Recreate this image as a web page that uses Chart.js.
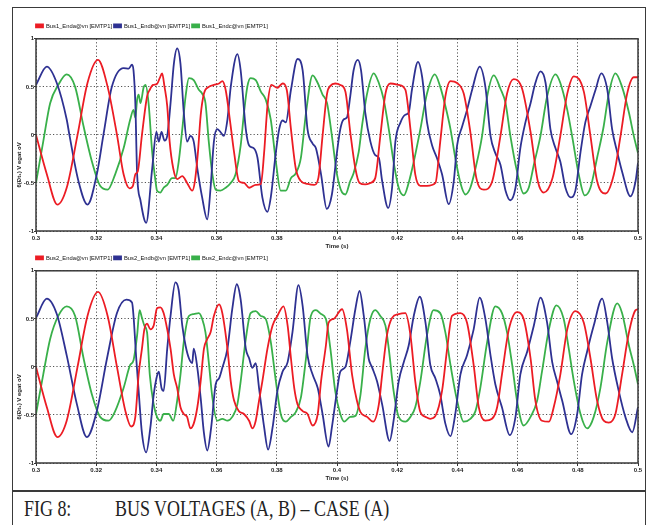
<!DOCTYPE html>
<html>
<head>
<meta charset="utf-8">
<script src="https://cdn.jsdelivr.net/npm/chart.js@4.4.1/dist/chart.umd.min.js"></script>
<style>
html,body{margin:0;padding:0;background:#fff;}
body{width:648px;height:525px;position:relative;overflow:hidden;font-family:Arial,"Liberation Sans",sans-serif;}
#frame{position:absolute;left:12px;top:7px;width:634px;height:485px;box-sizing:border-box;border:1.5px solid #3a3a3a;}
#cap{position:absolute;left:12px;top:490px;width:634px;height:45px;box-sizing:border-box;border:1.5px solid #3a3a3a;}
.captxt{position:absolute;top:497px;font-family:"Liberation Serif","Times New Roman",serif;font-size:23px;line-height:23px;color:#222;white-space:nowrap;transform-origin:0 0;transform:scaleX(0.78);}
#capA{left:24px;}
#capB{left:115px;}
canvas{position:absolute;}
#c1{left:14px;top:18px;}
#c2{left:14px;top:250px;}
</style>
</head>
<body>
<div id="frame"></div>
<div id="cap"></div>
<div id="capA" class="captxt">FIG 8:</div>
<div id="capB" class="captxt">BUS VOLTAGES (A, B) – CASE (A)</div>
<canvas id="c1" width="630" height="232"></canvas>
<canvas id="c2" width="630" height="232"></canvas>
<script>
// ---------- axis ticks ----------
const xTickValues = [0.3,0.32,0.34,0.36,0.38,0.4,0.42,0.44,0.46,0.48,0.5];
const xTickLabels = ["0.3","0.32","0.34","0.36","0.38","0.4","0.42","0.44","0.46","0.48","0.5"];
const yTickValues = [-1,-0.5,0,0.5,1];
const yTickLabels = ["-1","-0.5","0","0.5","1"];
const xTitle = "Time (s)";
const yTitle = "6(Đt₁) V egat oV";

// ---------- series names ----------
const namesBus1 = ["Bus1_Enda@vn [EMTP1]","Bus1_Endb@vn [EMTP1]","Bus1_Endc@vn [EMTP1]"];
const namesBus2 = ["Bus2_Enda@vn [EMTP1]","Bus2_Endb@vn [EMTP1]","Bus2_Endc@vn [EMTP1]"];

// ---------- Bus 1, phase a (red) ----------
const timeBus1A = [.3000,.3036,.3071,.3102,.3138,.3171,.3206,.3238,.3269,.3291,
.3311,.3322,.3330,.3338,.3352,.3369,.3378,.3389,.3402,.3411,
.3419,.3427,.3436,.3444,.3456,.3469,.3486,.3502,.3519,.3528,
.3538,.3547,.3558,.3574,.3591,.3608,.3619,.3630,.3644,.3658,
.3674,.3691,.3708,.3730,.3747,.3758,.3769,.3782,.3802,.3819,
.3833,.3847,.3863,.3880,.3902,.3924,.3938,.3952,.3967,.3978,
.3994,.4011,.4028,.4044,.4061,.4075,.4094,.4111,.4127,.4144,
.4161,.4177,.4205,.4227,.4244,.4260,.4277,.4299,.4327,.4343,
.4360,.4377,.4399,.4421,.4443,.4463,.4488,.4516,.4543,.4565,
.4587,.4615,.4643,.4667,.4687,.4715,.4742,.4765,.4787,.4820,
.4842,.4864,.4892,.4920,.4942,.4964,.4986,.5000];
const voltBus1A = [0,-0.41,-0.725,-0.55,0,0.54,0.78,0.50,0,-0.41,
-0.556,-0.53,-0.41,-0.38,0,0.40,0.47,0.52,0.53,0.59,
0.64,0.50,0.30,-0.07,-0.35,-0.46,-0.43,-0.50,-0.58,-0.48,
-0.18,0.20,0.43,0.50,0.52,0.535,0.56,0.47,0.16,-0.18,
-0.48,-0.50,-0.55,-0.52,-0.51,-0.18,0.30,0.52,0.49,0.535,
0.47,0.06,-0.35,-0.48,-0.51,-0.52,-0.45,-0.01,0.43,0.51,
0.535,0.52,0.45,0.03,-0.35,-0.50,-0.515,-0.50,-0.45,-0.01,
0.43,0.535,0.52,0.47,0.06,-0.41,-0.53,-0.53,-0.50,-0.07,
0.40,0.56,0.54,0.43,0.03,-0.45,-0.57,-0.48,-0.01,0.43,
0.58,0.48,0.03,-0.48,-0.60,-0.46,-0.01,0.43,0.61,0.45,
-0.01,-0.48,-0.61,-0.41,-0.01,0.43,0.60,0.60];

// ---------- Bus 1, phase b (blue) ----------
const timeBus1B = [.3000,.3036,.3069,.3102,.3111,.3141,.3171,.3202,.3224,.3252,
.3291,.3308,.3319,.3324,.3330,.3336,.3347,.3366,.3386,.3400,
.3408,.3417,.3427,.3436,.3447,.3458,.3469,.3480,.3491,.3502,
.3513,.3524,.3536,.3552,.3569,.3580,.3591,.3602,.3613,.3624,
.3636,.3647,.3669,.3680,.3697,.3708,.3724,.3736,.3752,.3769,
.3780,.3797,.3808,.3819,.3830,.3847,.3869,.3886,.3902,.3919,
.3930,.3947,.3966,
.3983,.4000,.4011,.4022,.4033,.4044,.4055,.4069,.4080,.4094,
.4111,.4127,.4139,.4150,.4170,.4183,.4194,.4211,.4227,.4238,
.4249,.4269,.4283,.4299,.4316,.4332,.4349,.4371,.4388,.4399,
.4416,.4432,.4449,.4474,.4493,.4510,.4526,.4543,.4560,.4576,
.4593,.4609,.4626,.4643,.4659,.4676,.4693,.4709,.4726,.4742,
.4759,.4776,.4792,.4809,.4825,.4842,.4859,.4878,.4898,.4914,
.4931,.4947,.4975,.4992,.5000];
const voltBus1B = [0.52,0.71,0.54,0.16,0,-0.48,-0.725,-0.41,0,0.50,
0.695,0.69,0.73,0.67,0.33,-0.41,-0.68,-0.915,-0.35,0.03,
-0.07,0.03,-0.06,-0.01,0.33,0.74,0.90,0.74,0.23,-0.07,
-0.01,-0.07,-0.35,-0.65,-0.88,-0.55,-0.07,0.06,0.03,-0.01,
0.16,0.50,0.84,0.67,0.06,-0.11,-0.14,-0.24,-0.65,-0.80,
-0.65,-0.18,0.06,0.15,0.13,0.47,0.79,0.67,0.06,-0.09,
-0.14,-0.41,-0.77,
-0.62,-0.18,0.06,0.16,0.18,0.40,0.67,0.78,0.67,0.23,
-0.07,-0.21,-0.24,-0.48,-0.76,-0.55,-0.07,0.13,0.21,0.23,
0.47,0.76,0.60,0.13,-0.11,-0.24,-0.41,-0.72,-0.48,-0.11,
0.09,0.26,0.47,0.71,0.50,-0.01,-0.19,-0.31,-0.58,-0.68,
-0.55,-0.14,0.13,0.33,0.54,0.66,0.54,0.06,-0.14,-0.28,
-0.55,-0.65,-0.58,-0.18,0.13,0.30,0.47,0.64,0.47,0.06,
-0.18,-0.38,-0.64,-0.48,-0.29];

// ---------- Bus 1, phase c (green) ----------
const timeBus1C = [.3000,.3024,.3047,.3074,.3102,.3130,.3158,.3186,.3213,.3238,
.3263,.3291,.3313,.3324,.3330,.3336,.3341,.3347,.3358,.3364,
.3374,.3386,.3397,.3402,.3413,.3424,.3436,.3452,.3463,.3474,
.3486,.3497,.3508,.3524,.3541,.3552,.3563,.3574,.3586,.3597,
.3613,.3630,.3647,.3663,.3680,.3691,.3702,.3713,.3730,.3747,
.3763,.3780,.3797,.3813,.3830,.3847,.3863,.3880,.3897,.3919,
.3936,.3952,
.3967,.3983,.4000,.4017,.4028,.4044,.4055,.4072,.4083,.4100,
.4122,.4139,.4155,.4172,.4188,.4205,.4222,.4238,.4255,.4277,
.4299,.4325,.4343,.4360,.4377,.4393,.4410,.4427,.4443,.4460,
.4482,.4499,.4521,.4543,.4560,.4576,.4598,.4620,.4637,.4654,
.4676,.4698,.4726,.4742,.4765,.4781,.4803,.4823,.4842,.4864,
.4886,.4903,.4925,.4947,.4970,.4986,.5000];
const voltBus1C = [-0.50,-0.07,0.33,0.52,0.63,0.50,0.09,-0.28,-0.53,-0.57,
-0.41,-0.14,0.16,0.26,0.18,0.37,0.42,0.33,0.50,0.52,
0.33,-0.18,-0.48,-0.58,-0.60,-0.55,-0.52,-0.45,-0.45,-0.28,
0.06,0.40,0.59,0.57,0.47,0.43,0.33,-0.07,-0.41,-0.57,
-0.58,-0.55,-0.50,-0.41,-0.11,0.23,0.50,0.59,0.57,0.45,
0.37,0.16,-0.28,-0.58,-0.58,-0.45,-0.40,-0.24,0.23,0.62,
0.54,0.42,
0.33,-0.01,-0.41,-0.60,-0.62,-0.48,-0.40,-0.18,0.09,0.43,
0.64,0.54,0.37,0.06,-0.28,-0.55,-0.63,-0.50,-0.28,0.06,
0.43,0.63,0.50,0.30,0.06,-0.24,-0.50,-0.62,-0.55,-0.35,
-0.01,0.40,0.62,0.48,0.33,-0.01,-0.38,-0.61,-0.55,-0.31,
-0.01,0.40,0.63,0.54,0.26,-0.01,-0.41,-0.63,-0.55,-0.24,
0.09,0.43,0.64,0.50,0.23,-0.01,-0.19];

// ---------- Bus 2, phase a (red) ----------
const timeBus2A = [.3000,.3036,.3071,.3102,.3138,.3171,.3206,.3238,.3269,.3297,
.3316,.3330,.3341,.3352,.3360,.3369,.3380,.3391,.3402,.3413,
.3424,.3436,.3447,.3458,.3469,.3480,.3491,.3502,.3513,.3524,
.3536,.3547,.3558,.3569,.3580,.3591,.3608,.3619,.3636,.3647,
.3658,.3674,.3691,.3708,.3719,.3730,.3741,.3752,.3769,.3786,
.3802,.3822,.3836,.3847,.3858,.3869,.3886,.3902,.3919,.3936,
.3947,.3963,
.3972,.3989,.4017,.4033,.4050,.4066,.4078,.4100,.4120,.4139,
.4150,.4166,.4183,.4205,.4227,.4244,.4260,.4277,.4294,.4310,
.4327,.4349,.4366,.4382,.4410,.4432,.4454,.4471,.4493,.4515,
.4532,.4548,.4571,.4598,.4620,.4643,.4659,.4681,.4704,.4720,
.4742,.4765,.4792,.4820,.4842,.4864,.4886,.4903,.4925,.4947,
.4970,.4992,.5000];
const voltBus2A = [0,-0.42,-0.73,-0.56,0,0.53,0.78,0.53,0,-0.46,
-0.62,-0.52,-0.08,0.19,0.39,0.45,0.39,0.43,0.61,0.62,
0.56,0.39,0.19,-0.08,-0.22,-0.42,-0.49,-0.52,-0.64,-0.59,
-0.42,-0.15,0.19,0.29,0.36,0.53,0.65,0.56,0.19,-0.15,
-0.35,-0.46,-0.49,-0.56,-0.64,-0.56,-0.35,-0.15,0.19,0.43,
0.53,0.63,0.43,0.09,-0.22,-0.39,-0.46,-0.49,-0.61,-0.49,
-0.15,0.22,
0.46,0.50,0.60,0.39,-0.08,-0.35,-0.47,-0.52,-0.57,-0.39,
-0.08,0.33,0.51,0.55,0.56,0.33,-0.15,-0.47,-0.52,-0.54,
-0.51,-0.25,0.19,0.53,0.56,0.46,0.02,-0.42,-0.56,-0.54,
-0.42,-0.08,0.39,0.57,0.50,0.09,-0.35,-0.56,-0.57,-0.42,
-0.08,0.39,0.58,0.46,0.09,-0.35,-0.56,-0.58,-0.49,-0.08,
0.36,0.59,0.60];

// ---------- Bus 2, phase b (blue) ----------
const timeBus2B = [.3000,.3036,.3069,.3102,.3136,.3169,.3202,.3236,.3269,.3300,
.3319,.3324,.3333,.3341,.3352,.3366,.3380,.3391,.3400,.3408,
.3417,.3424,.3436,.3447,.3463,.3474,.3486,.3497,.3508,.3519,
.3524,.3536,.3547,.3558,.3569,.3582,.3597,.3608,.3619,.3636,
.3652,.3667,.3680,.3697,.3708,.3719,.3730,.3741,.3758,.3771,
.3786,.3802,.3819,.3836,.3852,.3872,.3886,.3902,.3919,.3936,
.3952,
.3972,.3983,.4000,.4011,.4028,.4044,.4061,.4075,.4089,.4105,
.4116,.4133,.4150,.4175,.4188,.4205,.4222,.4238,.4255,.4275,
.4294,.4310,.4327,.4343,.4360,.4377,.4393,.4410,.4432,.4454,
.4474,.4493,.4510,.4526,.4548,.4574,.4593,.4609,.4632,.4654,
.4676,.4698,.4715,.4731,.4748,.4778,.4798,.4814,.4831,.4853,
.4881,.4898,.4914,.4936,.4958,.4981,.5000];
const voltBus2B = [0.51,0.71,0.55,0.12,-0.39,-0.73,-0.46,0.09,0.56,0.70,
0.67,0.53,0.09,-0.25,-0.69,-0.89,-0.63,-0.29,-0.12,-0.05,
-0.22,-0.25,0.19,0.53,0.88,0.80,0.43,0.22,0.09,0.04,
0.19,-0.01,-0.32,-0.69,-0.87,-0.63,-0.18,-0.12,-0.01,0.19,
0.60,0.86,0.70,0.19,0.09,-0.01,0.04,-0.22,-0.63,-0.86,
-0.63,-0.25,-0.05,0.05,0.36,0.85,0.63,0.12,-0.08,-0.22,
-0.49,
-0.83,-0.63,-0.25,-0.05,0.00,0.26,0.60,0.79,0.53,0.09,
0.00,-0.15,-0.39,-0.77,-0.56,-0.15,0.05,0.22,0.53,0.73,
0.46,0.02,-0.12,-0.29,-0.59,-0.72,-0.49,-0.08,0.12,0.39,
0.72,0.50,0.12,-0.18,-0.42,-0.71,-0.52,-0.08,0.16,0.43,
0.72,0.46,0.05,-0.15,-0.35,-0.70,-0.49,-0.08,0.16,0.43,
0.71,0.46,0.09,-0.25,-0.52,-0.68,-0.42];

// ---------- Bus 2, phase c (green) ----------
const timeBus2C = [.3000,.3024,.3047,.3074,.3102,.3130,.3158,.3186,.3213,.3241,
.3263,.3291,.3313,.3324,.3336,.3344,.3352,.3360,.3369,.3378,
.3391,.3402,.3413,.3424,.3441,.3456,.3469,.3480,.3491,.3508,
.3524,.3541,.3552,.3563,.3574,.3586,.3602,.3619,.3636,.3652,
.3669,.3680,.3697,.3713,.3730,.3747,.3763,.3780,.3797,.3813,
.3830,.3847,.3863,.3880,.3897,.3913,.3930,.3947,.3963,
.3978,.3994,.4011,.4024,.4044,.4061,.4078,.4094,.4111,.4127,
.4144,.4161,.4172,.4188,.4205,.4227,.4244,.4260,.4277,.4299,
.4321,.4343,.4360,.4377,.4399,.4421,.4443,.4460,.4476,.4499,
.4526,.4548,.4565,.4582,.4598,.4620,.4643,.4665,.4681,.4704,
.4729,.4753,.4770,.4787,.4809,.4831,.4853,.4875,.4898,.4931,
.4947,.4970,.4986,.5000];
const voltBus2C = [-0.49,-0.08,0.29,0.53,0.63,0.53,0.09,-0.29,-0.52,-0.56,
-0.46,-0.22,0.02,0.07,0.33,0.59,0.51,0.43,0.36,-0.08,
-0.39,-0.52,-0.56,-0.49,-0.49,-0.56,-0.35,-0.08,0.26,0.53,
0.55,0.56,0.50,0.36,0.05,-0.32,-0.56,-0.54,-0.56,-0.52,
-0.39,-0.15,0.29,0.56,0.58,0.53,0.50,0.26,-0.15,-0.49,
-0.57,-0.52,-0.47,-0.32,0.09,0.53,0.59,0.55,0.50,
0.19,-0.25,-0.49,-0.57,-0.52,-0.51,-0.29,0.19,0.50,0.59,
0.53,0.43,0.19,-0.25,-0.52,-0.57,-0.52,-0.42,-0.15,0.33,
0.59,0.56,0.36,0.02,-0.35,-0.57,-0.54,-0.46,-0.22,0.26,
0.63,0.56,0.36,0.02,-0.35,-0.61,-0.52,-0.35,-0.05,0.39,
0.64,0.50,0.19,-0.15,-0.49,-0.64,-0.52,-0.22,0.26,0.66,
0.56,0.22,0.02,-0.18];

const seriesColors = ["#ec1c24","#2e3192","#39b04a"];

function pts(ts, vs){
  const n = Math.min(ts.length, vs.length);
  const out = [];
  for (let i = 0; i < n; i++) out.push({x: ts[i], y: vs[i]});
  return out;
}

const framePlugin = {
  id: 'plotFrame',
  afterDatasetsDraw(chart){
    const a = chart.chartArea, ctx = chart.ctx;
    ctx.save();
    ctx.strokeStyle = '#3a3a3a';
    ctx.lineWidth = 1.5;
    ctx.strokeRect(a.left, a.top, a.right - a.left, a.bottom - a.top);
    ctx.restore();
  }
};
const yTitlePlugin = {
  id: 'yTitleText',
  afterDraw(chart){
    const ctx = chart.ctx;
    const y = chart.scales.y.getPixelForValue(0) + 30;
    ctx.save();
    ctx.translate(5, y);
    ctx.rotate(-Math.PI/2);
    ctx.font = 'bold 6px Arial, "Liberation Sans", sans-serif';
    ctx.fillStyle = '#222';
    ctx.textAlign = 'center';
    ctx.textBaseline = 'middle';
    ctx.fillText(yTitle, 0, 0);
    ctx.restore();
  }
};
const legendShift = {
  id: 'legendShift',
  afterLayout(chart){
    if (chart.legend) {
      const pad = chart.legend.options.labels.padding;
      chart.legend.left = chart.chartArea.left - pad;
    }
  }
};

const tickFont = {family: 'Arial, "Liberation Sans", sans-serif', size: 6, weight: 'bold'};

function makeChart(id, names, series){
  const datasets = series.map((s, i) => ({
    label: names[i],
    data: pts(s[0], s[1]),
    borderColor: seriesColors[i],
    backgroundColor: seriesColors[i],
    borderWidth: 1.8,
    pointRadius: 0,
    fill: false,
    cubicInterpolationMode: 'monotone'
  }));
  return new Chart(document.getElementById(id), {
    type: 'line',
    data: {datasets},
    options: {
      responsive: false,
      animation: false,
      devicePixelRatio: 1,
      layout: {padding: {top: 3, right: 6, left: 0, bottom: 0}},
      plugins: {
        legend: {
          position: 'top',
          align: 'start',
          labels: {boxWidth: 7, boxHeight: 3, padding: 2, color: '#111',
                   font: {family: 'Arial, "Liberation Sans", sans-serif', size: 5.8}}
        },
        tooltip: {enabled: false}
      },
      scales: {
        x: {
          type: 'linear', min: 0.3, max: 0.5,
          afterBuildTicks: s => { s.ticks = xTickValues.map(v => ({value: v})); },
          afterFit: s => { s.height = 19; },
          ticks: {callback: (v, i) => xTickLabels[i], font: tickFont, color: '#222', padding: 1, maxRotation: 0, autoSkip: false},
          grid: {color: '#555', lineWidth: 1, tickLength: 3, tickColor: '#333', tickBorderDash: []},
          border: {display: false, dash: [1.2, 2.2]},
          title: {display: true, text: xTitle, font: tickFont, color: '#222', padding: {top: 0, bottom: 0}}
        },
        y: {
          min: -1, max: 1,
          afterBuildTicks: s => { s.ticks = yTickValues.map(v => ({value: v})); },
          afterFit: s => { s.width = 22; },
          ticks: {callback: (v, i) => yTickLabels[i], font: tickFont, color: '#222', padding: 0, autoSkip: false},
          grid: {color: '#555', lineWidth: 1, tickLength: 2, tickColor: '#333', tickBorderDash: []},
          border: {display: false, dash: [1.2, 2.2]}
        }
      }
    },
    plugins: [framePlugin, yTitlePlugin, legendShift]
  });
}

makeChart('c1', namesBus1, [[timeBus1A, voltBus1A],[timeBus1B, voltBus1B],[timeBus1C, voltBus1C]]);
makeChart('c2', namesBus2, [[timeBus2A, voltBus2A],[timeBus2B, voltBus2B],[timeBus2C, voltBus2C]]);
</script>
</body>
</html>
